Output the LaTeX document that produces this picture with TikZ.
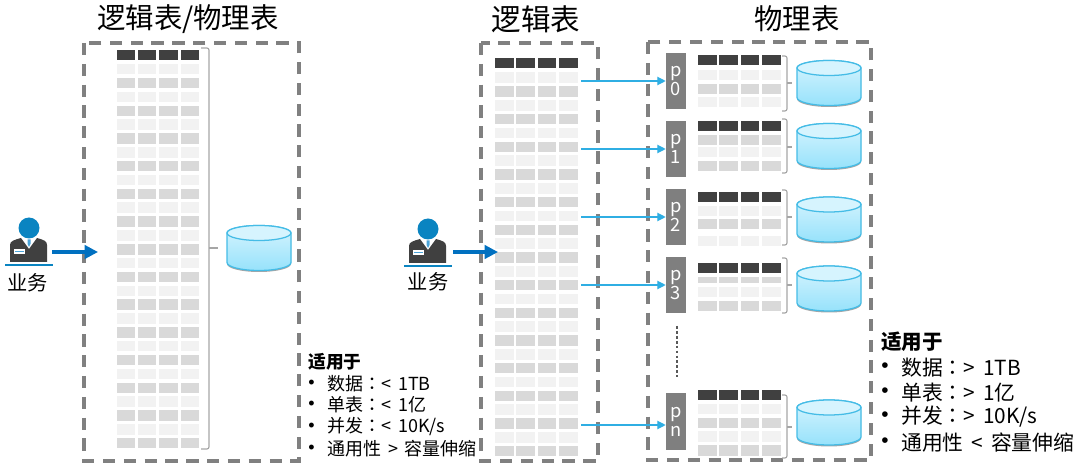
\documentclass[tikz,border=0pt]{standalone}
\usepackage{fontspec}
\setmainfont[WordSpace=1.7]{Noto Sans CJK SC}
\newfontfamily\colonfont{Noto Sans CJK TC}
\newfontfamily\dotfont{Liberation Sans}
\usetikzlibrary{arrows.meta}
\definecolor{dashgray}{HTML}{808080}
\definecolor{headcell}{HTML}{404040}
\definecolor{lightcell}{HTML}{F2F2F2}
\definecolor{darkcell}{HTML}{D9D9D9}
\definecolor{partgray}{HTML}{7F7F7F}
\definecolor{linkblue}{HTML}{2FAEE3}
\definecolor{flowblue}{HTML}{0070C0}
\definecolor{headblue}{HTML}{0A84C1}
\definecolor{tieblue}{HTML}{4AA3D8}
\definecolor{dbedge}{HTML}{45BCE6}
\definecolor{dbtop}{HTML}{D6F4FE}
\definecolor{dbbottom}{HTML}{97E2FB}
\tikzset{
  title/.style={font=\fontsize{20.2}{24}\selectfont, inner sep=0pt},
  bizlabel/.style={font=\fontsize{14.4}{17}\selectfont, inner sep=0pt},
  headsmall/.style={font=\fontsize{12.6}{15}\bfseries\selectfont, anchor=west, inner sep=0pt},
  headbig/.style={font=\fontsize{14.6}{18}\bfseries\selectfont, anchor=west, inner sep=0pt},
  usesmall/.style={font=\fontsize{12.8}{15}\selectfont, anchor=west, inner sep=0pt},
  usebig/.style={font=\fontsize{14.8}{18}\selectfont, anchor=west, inner sep=0pt},
  dashbox/.style={draw=dashgray, line width=2.3pt, dash pattern=on 8.7pt off 6.1pt},
  partbox/.style={fill=partgray, text=white, minimum width=0.5cm, minimum height=1.42cm, inner sep=0pt, align=center, font=\fontsize{13}{13.5}\selectfont},
  bracket/.style={draw=black!35, line width=0.8pt, rounded corners=1.5pt},
  link/.style={-{Triangle[length=6pt,width=6pt]}, linkblue, line width=0.8pt},
  flow/.style={-{Triangle[length=9.5pt,width=9.5pt]}, flowblue, line width=2.2pt},
  dbcyl/.pic={
    \fill[black!35] (-32,-13) -- (-32,16) arc[x radius=32, y radius=8, start angle=180, end angle=0] -- (32,-13) -- cycle;
    \shade[top color=dbtop, bottom color=dbbottom, draw=dbedge, line width=0.9pt] (-32,-15) -- (-32,14.5) arc[x radius=32, y radius=8, start angle=180, end angle=0] -- (32,-15) arc[x radius=32, y radius=7.5, start angle=0, end angle=-180] -- cycle;
    \draw[dbedge, fill=dbtop, line width=0.9pt] (0,-15) ellipse[x radius=32, y radius=7.5];
  },
  agent/.pic={
    \fill[headblue] (0,0) ellipse[x radius=10.5, y radius=10.5];
    \fill[headcell] (-19,34) -- (-19,17) .. controls (-19,13) and (-15,12) .. (-8,10) -- (0,21) -- (8,10) .. controls (15,12) and (18,13) .. (18,17) -- (18,34) -- cycle;
    \fill[tieblue] (-1.5,11.5) -- (1.5,11.5) -- (1.5,16) -- (0,19) -- (-1.5,16) -- cycle;
    \fill[white] (-15,21) rectangle (-4,26);
    \fill[tieblue] (-14,22.8) rectangle (-5,24.2);
    \draw[headblue, line width=0.9pt] (-24,37) -- (24,37);
  }
}
\newcommand{\cellrow}[4]{% x, y top, height, colour
  \foreach \col in {0,1,2,3} {
    \fill[#4] ({#1+\col*21.4},#2) rectangle ({#1+\col*21.4+18.5},{#2+#3});
  }
}
\newcommand{\cln}{{\colonfont ：}}
\begin{document}
\begin{tikzpicture}[x=0.025cm, y=-0.025cm]
    \useasboundingbox (0,0) rectangle (1080,465);
    % Titles
    \node[title] (tleft) at (188,19) {逻辑表/物理表};
    \node[title, font=\fontsize{21}{24}\selectfont] (tmid) at (536,19) {逻辑表};
    \node[title] (tright) at (797,19) {物理表};
    % Dashed frames
    \draw[dashbox] (84,43) rectangle (299,461);
    \draw[dashbox] (481,43) rectangle (598,461);
    \draw[dashbox] (648,42) rectangle (871,460);
    % Big tables
    \cellrow{116.5}{50}{10.5}{headcell}
    \foreach \i in {0,...,27} {
        \pgfmathsetmacro{\rowy}{64+\i*13.85}
        \ifodd\i \def\rowcol{darkcell}\else \def\rowcol{lightcell}\fi
        \cellrow{116.5}{\rowy}{10.5}{\rowcol}
    }
    \cellrow{495}{58}{10.5}{headcell}
    \foreach \i in {0,...,27} {
        \pgfmathsetmacro{\rowy}{72.5+\i*13.83}
        \ifodd\i \def\rowcol{darkcell}\else \def\rowcol{lightcell}\fi
        \cellrow{495}{\rowy}{10.5}{\rowcol}
    }
    % Single database
    \draw[bracket] (201,48) -- (209,48) -- (209,449) -- (201,449);
    \draw[bracket, rounded corners=0pt] (209,248) -- (218,248);
    \pic at (259,248) {dbcyl};
    % Partition tables: header, first row colour, bracket top/bottom, tick, database, rows
    \foreach \ptop/\first/\btop/\bbot/\tick/\dbmid/\ra/\rb/\rc/\rh in {55/0/56/111/83/83/70/84/97/10.5,121/1/119/173/147/146/135/147/161/10.5,192/0/190/245/217/219.5/206/219/236/10.5,263/1/258/313/285/288.5/277/287/301/6.5} {
        \cellrow{698}{\ptop}{10.5}{headcell}
        \ifodd\first \def\cola{darkcell}\def\colb{lightcell}\else \def\cola{lightcell}\def\colb{darkcell}\fi
        \cellrow{698}{\ra}{\rh}{\cola}
        \cellrow{698}{\rb}{10.5}{\colb}
        \cellrow{698}{\rc}{10.5}{\cola}
        \draw[bracket] (782,\btop) -- (787,\btop) -- (787,\bbot) -- (782,\bbot);
        \draw[bracket, rounded corners=0pt] (787,\tick) -- (792,\tick);
        \pic at (829,\dbmid) {dbcyl};
    }
    \cellrow{698}{390}{10.5}{headcell}
    \foreach \i in {0,1,2,3} {
        \pgfmathsetmacro{\rowy}{404+\i*13.7}
        \ifodd\i \def\rowcol{darkcell}\else \def\rowcol{lightcell}\fi
        \cellrow{698}{\rowy}{10.5}{\rowcol}
    }
    \draw[bracket] (782,395) -- (787,395) -- (787,458) -- (782,458);
    \draw[bracket, rounded corners=0pt] (787,427) -- (792,427);
    \pic at (829,422.5) {dbcyl};
    % Partitions
    \node[partbox] (p0) at (676,81) {p\\0};
    \node[partbox] (p1) at (676,149) {p\\1};
    \node[partbox] (p2) at (676,217) {p\\2};
    \node[partbox] (p3) at (676,285) {p\\3};
    \node[partbox] (pn) at (676,421.5) {p\\n};
    \coordinate (d0) at (677,326);
    \coordinate (d1) at (677,377);
    \draw[black!65, line width=1pt, dash pattern=on 2pt off 1.5pt] (d0) -- (d1);
    % Messages
    \coordinate (r0) at (581,81);
    \coordinate (r1) at (581,149);
    \coordinate (r2) at (581,217);
    \coordinate (r3) at (581,285);
    \coordinate (rn) at (581,425);
    \draw[link] (r0) -- (p0);
    \draw[link] (r1) -- (p1);
    \draw[link] (r2) -- (p2);
    \draw[link] (r3) -- (p3);
    \draw[link] (rn) -- (rn -| pn.west);
    % Callers
    \pic at (29,228) {agent};
    \node[bizlabel] (bizl) at (28,283) {业务};
    \coordinate (fl0) at (52,252);
    \coordinate (fl1) at (98,252);
    \draw[flow] (fl0) -- (fl1);
    \pic at (428,229) {agent};
    \node[bizlabel] (bizr) at (428,282) {业务};
    \coordinate (fr0) at (453,252);
    \coordinate (fr1) at (498,252);
    \draw[flow] (fr0) -- (fr1);
    % Usage notes
    \node[headsmall] (ns) at (308,362) {适用于};
    \foreach \y/\txt [count=\k] in {384/{数据\cln< 1TB},405/{单表\cln< 1亿},427/{并发\cln< 10K/s},449/{通用性 > 容量伸缩}} {
        \node[usesmall, font=\fontsize{12.8}{15}\dotfont] (bs\k) at (308,\y) {•};
        \node[usesmall] (ts\k) at (327,\y) {\txt};
    }
    \node[headbig] (nb) at (881,342) {适用于};
    \foreach \y/\txt [count=\k] in {368/{数据\cln> 1TB},393/{单表\cln> 1亿},417/{并发\cln> 10K/s},443/{通用性 < 容量伸缩}} {
        \node[usebig, font=\fontsize{14.8}{18}\dotfont] (bb\k) at (881,\y) {•};
        \node[usebig] (tb\k) at (901,\y) {\txt};
    }
\end{tikzpicture}
\end{document}
